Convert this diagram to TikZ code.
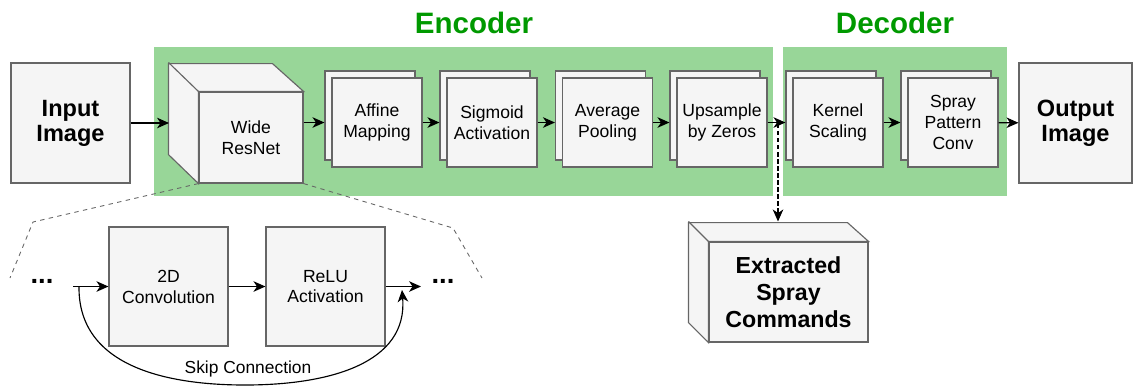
\documentclass[tikz,border=0pt]{standalone}
\usepackage{fontspec}
\setmainfont{Liberation Sans}
\usetikzlibrary{shadows,arrows.meta}
\definecolor{boxfill}{HTML}{F5F5F5}
\definecolor{boxline}{HTML}{666666}
\definecolor{panelgreen}{RGB}{152,214,152}
\definecolor{titlegreen}{HTML}{009900}

\begin{document}
\begin{tikzpicture}[>={Stealth[length=6.8pt,width=6pt,inset=2pt]},x=0.02cm,y=-0.02cm,line width=0.65pt,
	box/.style={draw=boxline,fill=boxfill,inner sep=0pt,align=center,font=\fontsize{10}{11.9}\selectfont},
	stackbox/.style={box,minimum width=1.8cm,minimum height=1.78cm,copy shadow={shadow xshift=-0.14cm,shadow yshift=0.14cm}},
	bigbox/.style={box,font=\fontsize{13.4}{14.2}\selectfont\bfseries},
	paneltitle/.style={text=titlegreen,font=\fontsize{16.8}{18}\selectfont\bfseries},
	zoomline/.style={boxline,line width=0.5pt,dash pattern=on 2.5pt off 2.5pt}]
	\useasboundingbox (0,0) rectangle (1133,387);

	% encoder / decoder panels
	\fill[panelgreen] (154,47) rectangle (773,196);
	\fill[panelgreen] (783,47) rectangle (1007,196);
	\node[paneltitle] (enc) at (474,23) {Encoder};
	\node[paneltitle] (dec) at (895,23) {Decoder};

	% main pipeline
	\node[bigbox,minimum width=2.38cm,minimum height=2.4cm] (input) at (70.5,123) {Input\\Image};
	\node[box,minimum width=2.08cm,minimum height=1.82cm] (resnet) at (251,137.5) {Wide\\ResNet};
	\draw[draw=boxline,fill=boxfill] (resnet.south west) -- ++(-30,-29) -- ++(0,-91) -- ++(104,0) -- (resnet.north east) -- (resnet.north west) -- cycle;
	\draw[boxline] (resnet.north west) -- ++(-30,-29);
	\node[stackbox] (affine) at (377,122.5) {Affine\\Mapping};
	\node[stackbox] (sigmoid) at (492,122.5) {Sigmoid\\Activation};
	\node[stackbox] (avgpool) at (607.5,122.5) {Average\\Pooling};
	\node[stackbox] (upsample) at (722,122.5) {Upsample\\by Zeros};
	\node[stackbox] (kernel) at (838,122.5) {Kernel\\Scaling};
	\node[stackbox] (spray) at (953,122.5) {Spray\\Pattern\\Conv};
	\node[bigbox,minimum width=2.26cm,minimum height=2.4cm] (output) at (1075.5,123) {Output\\Image};

	\coordinate (resin) at (169,123);
	\draw[->] (input) -- (resin);
	\draw[->] (resnet.east |- affine.west) -- ([xshift=-0.14cm]affine.west);
	\draw[->] (affine) -- ([xshift=-0.14cm]sigmoid.west);
	\draw[->] (sigmoid) -- ([xshift=-0.14cm]avgpool.west);
	\draw[->] (avgpool) -- ([xshift=-0.14cm]upsample.west);
	\draw[->] (upsample) -- ([xshift=-0.14cm]kernel.west);
	\draw[->] (kernel) -- ([xshift=-0.14cm]spray.west);
	\draw[->] (spray) -- (output);

	% spray commands taken out between encoder and decoder
	\node[bigbox,font=\fontsize{13.2}{15.3}\selectfont\bfseries,minimum width=3.18cm,minimum height=2cm] (cmds) at (788.5,292) {Extracted\\Spray\\Commands};
	\draw[draw=boxline,fill=boxfill] (cmds.south west) -- ++(-20,-20) -- ++(0,-100) -- ++(159,0) -- (cmds.north east) -- (cmds.north west) -- cycle;
	\draw[boxline] (cmds.north west) -- ++(-20,-20);
	\coordinate (tap) at (778,124);
	\coordinate (cmdtop) at ([yshift=0.4cm]cmds.north);
	\draw[->,dash pattern=on 2.5pt off 1.5pt] (tap) -- (tap |- cmdtop);

	% inside the wide resnet block
	\draw[zoomline] (resnet.south west) -- (33,222) -- (10,278);
	\draw[zoomline] (resnet.south east) -- (453,228) -- (482,278);
	\node[font=\fontsize{15.6}{16}\selectfont\bfseries,inner sep=0pt] (ldots) at (42,281) {...};
	\node[font=\fontsize{15.6}{16}\selectfont\bfseries,inner sep=0pt] (rdots) at (443,281) {...};
	\node[box,minimum width=2.38cm,minimum height=2.38cm] (conv) at (168.5,286.5) {2D\\Convolution};
	\node[box,minimum width=2.38cm,minimum height=2.38cm] (relu) at (325.5,286.5) {ReLU\\Activation};
	\coordinate (blkin) at (73,286.5);
	\coordinate (blkout) at (421,286.5);
	\draw[->] (blkin) -- (conv);
	\draw[->] (conv) -- (relu);
	\draw[->] (relu) -- (blkout);
	\coordinate (skipstart) at (79,286.5);
	\coordinate (skipend) at (402,290);
	\draw[->] (skipstart) .. controls (78,368) and (170,385) .. (245,385) .. controls (330,385) and (408,363) .. (skipend);
	\node[font=\fontsize{9.9}{11}\selectfont] (skiplbl) at (248,369) {Skip Connection};
\end{tikzpicture}
\end{document}
